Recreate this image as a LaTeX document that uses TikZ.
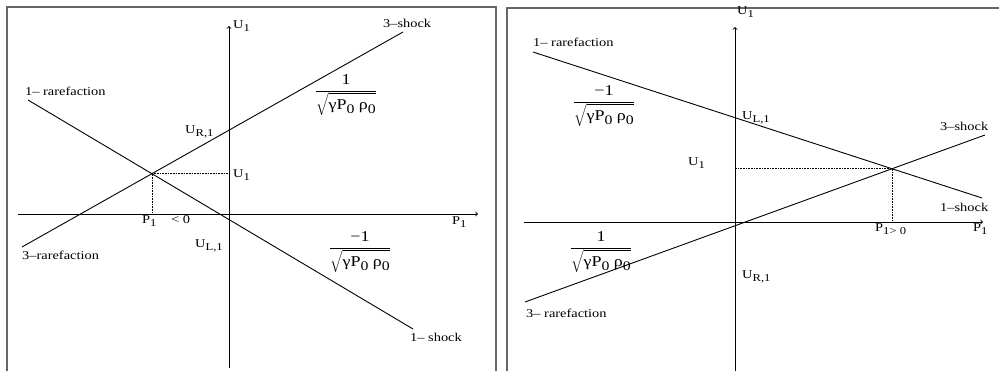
\documentclass[tikz,border=0pt]{standalone}
\usepackage{graphicx}
\usepackage{fontspec}
\setmainfont{Liberation Serif}[FakeStretch=1.2]
\newcommand\sub[1]{\raisebox{-3pt}{\fontsize{10.5}{12}\selectfont #1}}
\newcommand\rootfrac[1]{\scalebox{1.25}{$\displaystyle\frac{\mbox{#1}}{\sqrt{\mbox{\rule{0pt}{10pt}γP\sub{0} ρ\sub{0}}}}$}}
\begin{document}
\begin{tikzpicture}[x=1pt,y=-1pt,font=\fontsize{12}{14}\selectfont,
    panel/.style={line width=1.4pt, black!60},
    wave/.style={line width=0.9pt},
    guide/.style={densely dotted, line width=0.6pt},
    lbl/.style={inner sep=0pt, anchor=base west},
    frac/.style={inner sep=0pt, anchor=base}]
\useasboundingbox (0,0) rectangle (999,371);
% frames
\draw[panel] (7,372) -- (7,7) -- (496,7) -- (496,372);
\draw[panel] (507,372) -- (507,8) -- (1000,8);
% left panel: axes
\coordinate (lU) at (229,26); \coordinate (lUb) at (229,368);
\coordinate (lP0) at (18,214); \coordinate (lP) at (478,214);
\draw[wave,->] (lUb) -- (lU);
\draw[wave,->] (lP0) -- (lP);
% left panel: waves
\coordinate (lR3) at (22,247); \coordinate (lS3) at (403,32);
\coordinate (lR1) at (28,100); \coordinate (lS1) at (413,329);
\draw[wave] (lR3) -- (lS3);
\draw[wave] (lR1) -- (lS1);
\coordinate (lX) at (intersection of lR3--lS3 and lR1--lS1);
\draw[guide] (lX) -- (lX -| lU);
\draw[guide] (lX) -- (lX |- lP);
% left panel: labels
\node[lbl] (lUt) at (233,29) {U\sub{1}};
\node[lbl] (lS3t) at (383,28) {3–shock};
\node[lbl] (lR1t) at (25,96) {1– rarefaction};
\node[frac] (lF3) at (346,95) {\rootfrac{1}};
\node[lbl] (lURt) at (185,134) {U\sub{R,1}};
\node[lbl] (lU1t) at (233,178) {U\sub{1}};
\node[lbl] (lP1t) at (142,224) {P\sub{1}};
\node[lbl] (lNeg) at (171,224) {< 0};
\node[lbl] (lPt) at (452,225) {P\sub{1}};
\node[lbl] (lULt) at (195,248) {U\sub{L,1}};
\node[lbl] (lR3t) at (22,260) {3–rarefaction};
\node[frac] (lF1) at (360,252) {\rootfrac{−1}};
\node[lbl] (lS1t) at (410,342) {1– shock};
% right panel: axes
\coordinate (rU) at (735,27); \coordinate (rUb) at (735,372);
\coordinate (rP0) at (524,222); \coordinate (rP) at (983,222);
\draw[wave,->] (rUb) -- (rU);
\draw[wave,->] (rP0) -- (rP);
% right panel: waves
\coordinate (rR1) at (533,52); \coordinate (rS1) at (982,198);
\coordinate (rR3) at (525,302); \coordinate (rS3) at (985,135);
\draw[wave] (rR1) -- (rS1);
\draw[wave] (rR3) -- (rS3);
\coordinate (rX) at (intersection of rR1--rS1 and rR3--rS3);
\draw[guide] (rX) -- (rX -| rU);
\draw[guide] (rX) -- (rX |- rP);
% right panel: labels
\node[lbl] (rUt) at (737,15) {U\sub{1}};
\node[lbl] (rR1t) at (533,47) {1– rarefaction};
\node[frac] (rF1) at (604,106) {\rootfrac{−1}};
\node[lbl] (rULt) at (742,120) {U\sub{L,1}};
\node[lbl] (rS3t) at (940,131) {3–shock};
\node[lbl] (rU1t) at (688,166) {U\sub{1}};
\node[lbl] (rS1t) at (940,212) {1–shock};
\node[lbl] (rP1t) at (875,232) {P\sub{1> 0}};
\node[lbl] (rPt) at (973,232) {P\sub{1}};
\node[frac] (rF3) at (601,252) {\rootfrac{1}};
\node[lbl] (rURt) at (742,279) {U\sub{R,1}};
\node[lbl] (rR3t) at (526,318) {3– rarefaction};
\end{tikzpicture}
\end{document}
